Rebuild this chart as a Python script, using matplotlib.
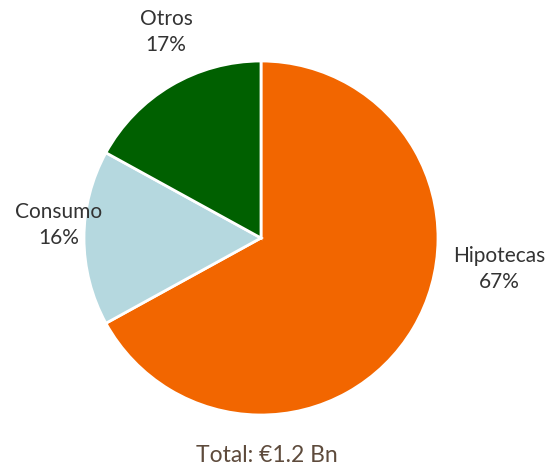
import matplotlib
matplotlib.use('Agg')
import matplotlib.pyplot as plt

# data
categories = ['Hipotecas', 'Consumo', 'Otros']
shares = [67, 16, 17]
colors = ['#f26600', '#b5d8df', '#006000']
total_label = 'Total: €1.2 Bn'

H = 465
# label anchor points (pixel coords, y from top)
label_pos = [(499, 269), (59, 225), (166, 32)]

plt.rcParams['font.family'] = ['Lato', 'DejaVu Sans']

fig = plt.figure(figsize=(5.47, 4.65), dpi=100)
ax = fig.add_axes([0, 0, 1, 1])

ax.pie(shares, colors=colors, startangle=90, counterclock=False,
       center=(261, H - 238), radius=177, frame=True,
       wedgeprops=dict(edgecolor='white', linewidth=2))
ax.set_xlim(0, 547)
ax.set_ylim(0, H)
ax.set_aspect('equal')
ax.axis('off')

for name, val, (x, y) in zip(categories, shares, label_pos):
    ax.text(x, H - y, f'{name}\n{val}%', ha='center', va='center',
            fontsize=15, color='#333333', linespacing=1.35)

ax.text(267, H - 455, total_label, ha='center', va='center',
        fontsize=16.5, color='#5e4b3c')

fig.savefig('out.png', dpi=100)
